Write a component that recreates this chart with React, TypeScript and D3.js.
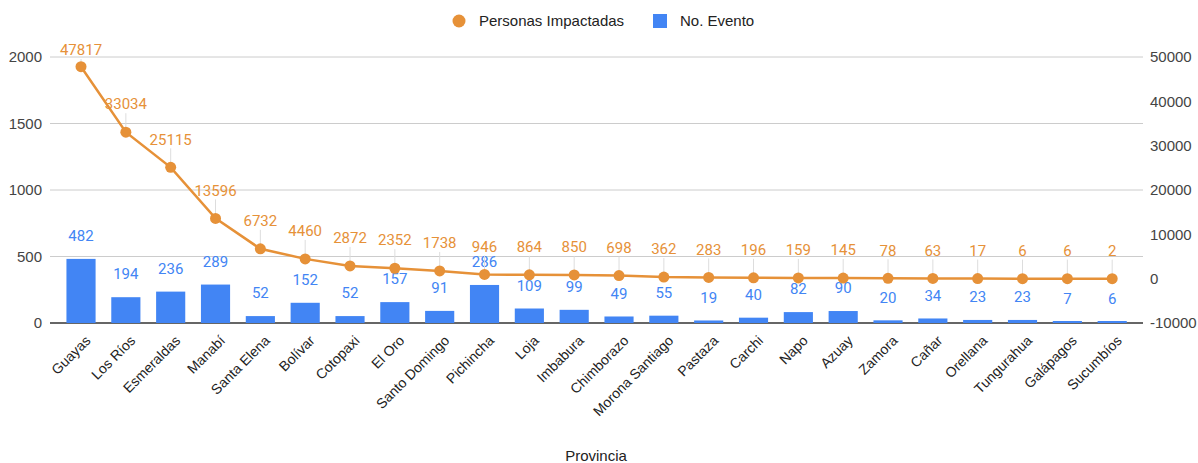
import React from 'react'
import * as d3 from 'd3'

const provinces = [
  'Guayas', 'Los Ríos', 'Esmeraldas', 'Manabí', 'Santa Elena', 'Bolívar', 'Cotopaxi', 'El Oro',
  'Santo Domingo', 'Pichincha', 'Loja', 'Imbabura', 'Chimborazo', 'Morona Santiago', 'Pastaza',
  'Carchi', 'Napo', 'Azuay', 'Zamora', 'Cañar', 'Orellana', 'Tungurahua', 'Galápagos', 'Sucumbíos'
]
const eventos = [482, 194, 236, 289, 52, 152, 52, 157, 91, 286, 109, 99, 49, 55, 19, 40, 82, 90, 20, 34, 23, 23, 7, 6]
const personas = [47817, 33034, 25115, 13596, 6732, 4460, 2872, 2352, 1738, 946, 864, 850, 698, 362, 283, 196, 159, 145, 78, 63, 17, 6, 6, 2]
const leftTicks = [0, 500, 1000, 1500, 2000]
const rightTicks = [-10000, 0, 10000, 20000, 30000, 40000, 50000]

const W = 1198
const H = 463
const BLUE = '#4285f4'
const ORANGE = '#e69138'

const App: React.FC = () => {
  const x = d3.scaleBand<string>()
    .domain(provinces)
    .range([58.6, 1134.6])
    .paddingInner(0.35)
    .paddingOuter(0.175)

  const yL = d3.scaleLinear().domain([0, 2000]).range([323, 57])
  const yR = d3.scaleLinear().domain([-10000, 50000]).range([323, 57])

  const cx = (p: string) => (x(p) || 0) + x.bandwidth() / 2

  const line = d3.line<number>()
    .x((_, i) => cx(provinces[i]))
    .y(d => yR(d))

  const labelFont = 'Roboto, Arial, sans-serif'
  const axisFont = 'Arial, "Liberation Sans", sans-serif'

  return (
    <svg width={W} height={H} style={{ position: 'absolute', left: 0, top: 0, background: '#fff' }}>
      {/* legend */}
      <g fontFamily={axisFont} fontSize={15} fill="#222">
        <circle cx={459} cy={21} r={6.5} fill={ORANGE} />
        <text x={479} y={21} dy="0.35em">Personas Impactadas</text>
        <rect x={653} y={14} width={14} height={14} fill={BLUE} />
        <text x={680} y={21} dy="0.35em">No. Evento</text>
      </g>

      {/* gridlines + axis line */}
      {leftTicks.map(t => (
        <line key={t} x1={50} x2={1143} y1={yL(t)} y2={yL(t)}
          stroke={t === 0 ? '#333' : '#ccc'} strokeWidth={t === 0 ? 1.3 : 1} />
      ))}

      {/* left ticks */}
      <g fontFamily={axisFont} fontSize={15} fill="#444" textAnchor="end">
        {leftTicks.map(t => (
          <text key={t} x={42} y={yL(t)} dy="0.35em">{t}</text>
        ))}
      </g>

      {/* right ticks */}
      <g fontFamily={axisFont} fontSize={15} fill="#444" textAnchor="start">
        {rightTicks.map(t => (
          <text key={t} x={1150} y={yR(t)} dy="0.35em">{t}</text>
        ))}
      </g>

      {/* bars */}
      {provinces.map((p, i) => {
        const h = Math.max(yL(0) - yL(eventos[i]), 2)
        return (
          <rect key={p} x={x(p)} y={yL(0) - h} width={x.bandwidth()} height={h} fill={BLUE} />
        )
      })}

      {/* bar labels */}
      <g fontFamily={labelFont} fontSize={15} fill={BLUE} textAnchor="middle">
        {provinces.map((p, i) => (
          <text key={p} x={cx(p)} y={yL(eventos[i]) - 23} dy="0.35em">{eventos[i]}</text>
        ))}
      </g>

      {/* stems for line labels */}
      {provinces.map((p, i) => {
        const py = yR(personas[i])
        const ly = Math.max(py - 28, 50)
        return py - ly > 14 ? (
          <line key={p} x1={cx(p)} x2={cx(p)} y1={ly + 9} y2={py} stroke="#ddd" strokeWidth={1} />
        ) : null
      })}

      {/* line */}
      <path d={line(personas) || ''} fill="none" stroke={ORANGE} strokeWidth={2.5} />
      {provinces.map((p, i) => (
        <circle key={p} cx={cx(p)} cy={yR(personas[i])} r={5.5} fill={ORANGE} />
      ))}

      {/* line labels */}
      <g fontFamily={labelFont} fontSize={15} fill={ORANGE} textAnchor="middle">
        {provinces.map((p, i) => {
          const py = yR(personas[i])
          return (
            <text key={p} x={cx(p)} y={Math.max(py - 28, 50)} dy="0.35em">{personas[i]}</text>
          )
        })}
      </g>

      {/* x labels */}
      <g fontFamily={axisFont} fontSize={14} fill="#222" textAnchor="end">
        {provinces.map(p => (
          <text key={p} transform={`translate(${cx(p) + 7},${338}) rotate(-45)`} dy="0.35em">{p}</text>
        ))}
      </g>

      <text x={596} y={456} dy="0.35em" textAnchor="middle" fontFamily={axisFont} fontSize={15} fill="#222">Provincia</text>
    </svg>
  )
}

export default App
